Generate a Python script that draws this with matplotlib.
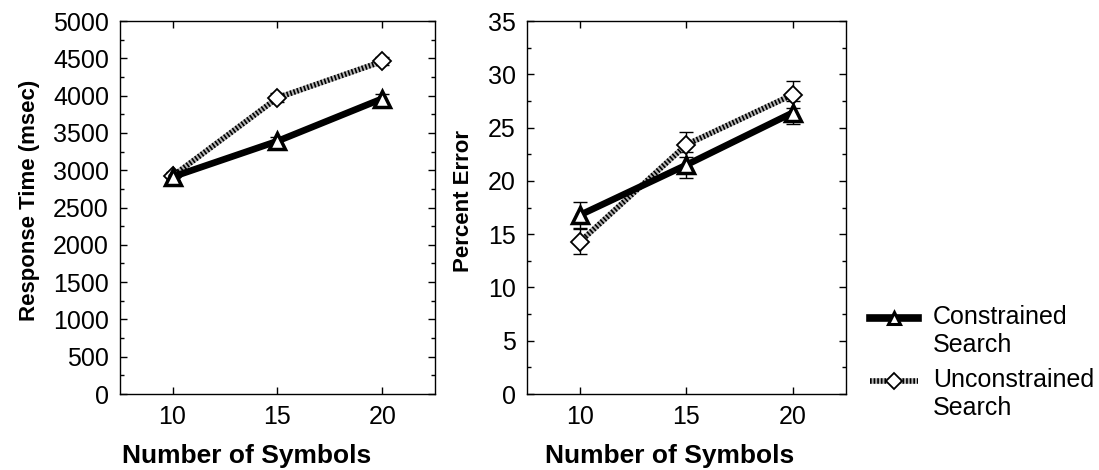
import numpy as np
import matplotlib
matplotlib.use("Agg")
import matplotlib.pyplot as plt
from matplotlib.lines import Line2D
from matplotlib.legend_handler import HandlerTuple

plt.rcParams["font.family"] = ["Liberation Sans", "DejaVu Sans"]
plt.rcParams["axes.linewidth"] = 1.0

# ===================== 数据 =====================
n_symbols = [10, 15, 20]

rt_constrained = [2910, 3390, 3960]
rt_constrained_err = [50, 55, 60]
rt_unconstrained = [2920, 3970, 4460]
rt_unconstrained_err = [55, 60, 55]

pe_constrained = [16.8, 21.5, 26.4]
pe_constrained_err = [1.25, 1.2, 1.1]
pe_unconstrained = [14.3, 23.4, 28.1]
pe_unconstrained_err = [1.2, 1.2, 1.25]

legend_labels = ["Constrained\nSearch", "Unconstrained\nSearch"]

FS_TICK = 18
FS_XLAB = 19
FS_YLAB = 16
FS_LEG = 18
HATCH_GRAY = "#b4b4b4"


class HandlerTupleFirstLine(HandlerTuple):
    """把图例符号对齐到两行文字的第一行。"""

    def create_artists(self, legend, orig_handle, xdescent, ydescent,
                       width, height, fontsize, trans):
        off = 0.55 * fontsize
        return super().create_artists(legend, orig_handle, xdescent,
                                      ydescent - off, width, height + off,
                                      fontsize, trans)


def draw_series(ax, y_c, e_c, y_u, e_u):
    # 误差线
    ax.errorbar(n_symbols, y_u, yerr=e_u, fmt="none", ecolor="black",
                elinewidth=1.0, capsize=5, capthick=1.0, zorder=2)
    ax.errorbar(n_symbols, y_c, yerr=e_c, fmt="none", ecolor="black",
                elinewidth=1.0, capsize=5, capthick=1.0, zorder=2)
    # Unconstrained: 灰底 + 黑色短竖纹
    ax.plot(n_symbols, y_u, color=HATCH_GRAY, lw=4, zorder=3,
            solid_capstyle="butt")
    ax.plot(n_symbols, y_u, color="black", lw=4, zorder=3,
            dashes=(0.3, 0.35), dash_capstyle="butt")
    ax.plot(n_symbols, y_u, ls="none", marker="D", ms=9, mfc="white",
            mec="black", mew=1.3, zorder=4)
    # Constrained: 粗黑实线
    ax.plot(n_symbols, y_c, color="black", lw=4.8, zorder=5)
    ax.plot(n_symbols, y_c, ls="none", marker="^", ms=11, mfc="white",
            mec="black", mew=2.5, zorder=6)


def style_axes(ax, ymax, ystep, xlab_x):
    ax.set_xlim(7.5, 22.5)
    ax.set_ylim(0, ymax)
    ax.set_xticks(n_symbols)
    ax.set_yticks(np.arange(0, ymax + ystep / 2, ystep))
    ax.set_yticks(np.arange(ystep / 2, ymax, ystep), minor=True)
    ax.tick_params(axis="both", which="major", direction="in", length=5,
                   width=1.0, top=True, right=True, labelsize=FS_TICK, pad=8)
    ax.tick_params(axis="y", which="minor", direction="in", length=3,
                   width=1.0, right=True)
    ax.set_xlabel("Number of Symbols", fontsize=FS_XLAB, fontweight="bold")
    ax.xaxis.set_label_coords(xlab_x, -0.135)


fig = plt.figure(figsize=(10.99, 4.70), dpi=100)
ax1 = fig.add_axes([0.1092, 0.1617, 0.2866, 0.7936])
ax2 = fig.add_axes([0.4795, 0.1617, 0.2903, 0.7936])

draw_series(ax1, rt_constrained, rt_constrained_err,
            rt_unconstrained, rt_unconstrained_err)
style_axes(ax1, 5000, 500, 0.403)
ax1.set_ylabel("Response Time (msec)", fontsize=FS_YLAB, fontweight="bold")
ax1.yaxis.set_label_coords(-0.254, 0.52)

draw_series(ax2, pe_constrained, pe_constrained_err,
            pe_unconstrained, pe_unconstrained_err)
style_axes(ax2, 35, 5, 0.448)
ax2.set_ylabel("Percent Error", fontsize=FS_YLAB, fontweight="bold")
ax2.yaxis.set_label_coords(-0.165, 0.517)

# ===================== 图例 =====================
h_c = (Line2D([], [], color="black", lw=5.5),
       Line2D([], [], ls="none", marker="^", ms=9, mfc="white",
              mec="black", mew=2.2))
h_u = (Line2D([], [], color=HATCH_GRAY, lw=4, solid_capstyle="butt"),
       Line2D([], [], color="black", lw=4, dashes=(0.3, 0.35),
              dash_capstyle="butt"),
       Line2D([], [], ls="none", marker="D", ms=8, mfc="white",
              mec="black", mew=1.3))
fig.legend([h_c, h_u], legend_labels,
           handler_map={tuple: HandlerTupleFirstLine(ndivide=1)},
           loc="center left", bbox_to_anchor=(0.792, 0.228),
           frameon=False, fontsize=FS_LEG, handlelength=1.9,
           handletextpad=0.6, labelspacing=0.45, borderpad=0,
           borderaxespad=0)

plt.savefig("out.png", dpi=100)
